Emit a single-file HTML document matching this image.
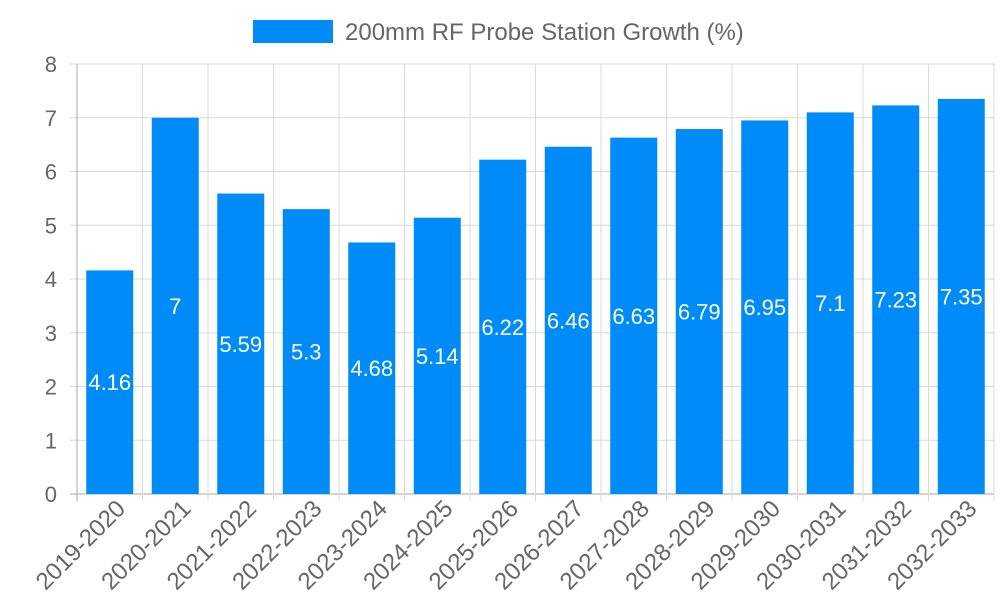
<!DOCTYPE html>
<html><head><meta charset="utf-8"><style>
body{margin:0;background:#fff;}
svg{display:block;font-family:"Liberation Sans",sans-serif;}
</style></head><body>
<svg id="chart" width="1000" height="600" viewBox="0 0 1000 600">
<g id="legend">
<rect x="253" y="20" width="80" height="23" fill="#008cf8"/>
<text x="345" y="40" font-size="24" fill="#666">200mm RF Probe Station Growth (%)</text>
</g>
<g id="grid"></g><g id="bars"></g><g id="axes"></g>
</svg>
<script>
const categories=["2019-2020","2020-2021","2021-2022","2022-2023","2023-2024","2024-2025","2025-2026","2026-2027","2027-2028","2028-2029","2029-2030","2030-2031","2031-2032","2032-2033"];
const values=[4.16,7,5.59,5.3,4.68,5.14,6.22,6.46,6.63,6.79,6.95,7.1,7.23,7.35];
const yTicks=[0,1,2,3,4,5,6,7,8];
const NS="http://www.w3.org/2000/svg";
const L=77,R=994,T=64,B=494,yMax=8;
const bw=(R-L)/categories.length;
const y=v=>B-(v/yMax)*(B-T);
const x=i=>L+i*bw;
function mk(tag,attrs,parent,txt){const e=document.createElementNS(NS,tag);for(const k in attrs)e.setAttribute(k,attrs[k]);if(txt!==undefined)e.textContent=txt;parent.appendChild(e);return e;}
const grid=document.getElementById('grid'),bars=document.getElementById('bars'),axes=document.getElementById('axes');
yTicks.forEach(t=>{
  const g=mk('line',{x1:L-7,x2:R,y1:y(t),y2:y(t),stroke:t===0?'#aaa':'#d9d9d9','stroke-width':1},grid);
  
  
  const lb=mk('text',{x:L-20,y:y(t)+8,'text-anchor':'end','font-size':22,fill:'#666'},axes,String(t));
  
  
});
for(let i=0;i<=categories.length;i++){
  const g=mk('line',{x1:x(i),x2:x(i),y1:T,y2:B+7,stroke:i===0?'#aaa':'#d9d9d9','stroke-width':1},grid);
  
  
}
categories.forEach((c,i)=>{
  const cx=x(i)+bw/2,w=47;
  const r=mk('rect',{x:cx-w/2,y:y(values[i]),width:w,height:B-y(values[i]),fill:'#008cf8'},bars);
  
  
  const v=mk('text',{x:cx,y:(y(values[i])+B)/2+8,'text-anchor':'middle','font-size':22,fill:'#fff'},bars,String(values[i]));
  
  
  const ax0=cx+17,ay0=510;
  const xl=mk('text',{x:ax0,y:ay0,'text-anchor':'end','font-size':24,fill:'#666',transform:`rotate(-45 ${ax0} ${ay0})`},axes,c);
  
  
});
const ax=mk('line',{x1:L,x2:L,y1:T,y2:B,stroke:'#aaa'},axes);


</script>
</body></html>
